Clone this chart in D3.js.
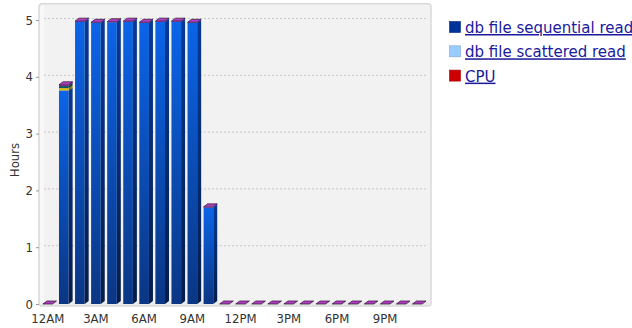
<!DOCTYPE html>
<html>
<head>
<meta charset="utf-8">
<script src="https://cdn.jsdelivr.net/npm/d3@7"></script>
<style>
  html, body { margin: 0; padding: 0; background: #ffffff; }
  svg { display: block; }
  .axis-label { font-family: "DejaVu Sans Condensed", "DejaVu Sans", sans-serif; font-size: 13px; fill: #333; }
  .legend-text { font-family: "DejaVu Sans", sans-serif; font-size: 15px; fill: #1a1a9c; text-decoration: underline; }
</style>
</head>
<body>
<svg id="chart" width="632" height="328"></svg>
<script>
// Hours of the day, one bar per hour
const hours = ["12AM","1AM","2AM","3AM","4AM","5AM","6AM","7AM","8AM","9AM","10AM","11AM",
               "12PM","1PM","2PM","3PM","4PM","5PM","6PM","7PM","8PM","9PM","10PM","11PM"];
const tickHours = ["12AM","3AM","6AM","9AM","12PM","3PM","6PM","9PM"];
const yTicks = [0, 1, 2, 3, 4, 5];

// Time spent per wait class (hours), stacked bottom to top
const seqRead     = [0, 3.76, 4.97, 4.95, 4.96, 4.97, 4.95, 4.97, 4.97, 4.95, 1.70, 0, 0, 0, 0, 0, 0, 0, 0, 0, 0, 0, 0, 0];
const scatRead    = [0, 0, 0, 0, 0, 0, 0, 0, 0, 0, 0, 0, 0, 0, 0, 0, 0, 0, 0, 0, 0, 0, 0, 0];
const cpu         = [0, 0, 0, 0, 0, 0, 0, 0, 0, 0, 0, 0, 0, 0, 0, 0, 0, 0, 0, 0, 0, 0, 0, 0];
const otherIO     = [0, 0.04, 0, 0, 0, 0, 0, 0, 0, 0, 0, 0, 0, 0, 0, 0, 0, 0, 0, 0, 0, 0, 0, 0];
const commitWait  = [0, 0.04, 0, 0, 0, 0, 0, 0, 0, 0, 0, 0, 0, 0, 0, 0, 0, 0, 0, 0, 0, 0, 0, 0];
const otherWait   = [0, 0.02, 0.01, 0.01, 0.01, 0.01, 0.01, 0.01, 0.01, 0.01, 0.01, 0, 0, 0, 0, 0, 0, 0, 0, 0, 0, 0, 0, 0];

const series = [
  { name: "db file sequential read", values: seqRead,    front: ["#0b64e8", "#0a3684"], side: ["#063a94", "#041c4c"], legend: "#003399" },
  { name: "db file scattered read",  values: scatRead,   front: ["#a8d4ff", "#7fb6ee"], side: ["#6a9ad0", "#4d7cb0"], legend: "#99ccff" },
  { name: "CPU",                     values: cpu,        front: ["#dd1111", "#aa0000"], side: ["#880000", "#660000"], legend: "#cc0000" },
  { name: "Other I/O",               values: otherIO,    front: ["#e8c400", "#d8b000"], side: ["#9a8000", "#806a00"], legend: null },
  { name: "Commit",                  values: commitWait, front: ["#13666c", "#0e5258"], side: ["#0a3c40", "#083034"], legend: null },
  { name: "Other",                   values: otherWait,  front: ["#9a2aa8", "#801c90"], side: ["#581468", "#480e58"], legend: null }
];
const topColor = "#b040c0";

const svg = d3.select("#chart");
const defs = svg.append("defs");

const x = d3.scaleBand().domain(hours).range([39.7, 425.3]).paddingInner(0.4).paddingOuter(0.2);
const y = d3.scaleLinear().domain([0, 5]).range([304, 20]);
const dx = 4, dy = 3;

// vertical gradients for front and side faces of each series
series.forEach((s, i) => {
  const gf = defs.append("linearGradient").attr("id", "gf" + i).attr("x1", 0).attr("y1", 0).attr("x2", 0).attr("y2", 1);
  gf.append("stop").attr("offset", "0%").attr("stop-color", s.front[0]);
  gf.append("stop").attr("offset", "100%").attr("stop-color", s.front[1]);
  const gs = defs.append("linearGradient").attr("id", "gs" + i).attr("x1", 0).attr("y1", 0).attr("x2", 0).attr("y2", 1);
  gs.append("stop").attr("offset", "0%").attr("stop-color", s.side[0]);
  gs.append("stop").attr("offset", "100%").attr("stop-color", s.side[1]);
});

// plot walls
const wallTop = y(5.27), wallBottom = 305, wallLeft = 40, wallRight = 430;
svg.append("rect").attr("x", wallLeft - 1).attr("y", wallTop - 1)
  .attr("width", wallRight - wallLeft + 2).attr("height", wallBottom - wallTop + 2)
  .attr("rx", 3).attr("fill", "#f2f2f2").attr("stroke", "#d9d9d9").attr("stroke-width", 1.5);
// left side wall and floor strip
svg.append("path")
  .attr("d", `M${wallLeft},${wallTop + 2} L${wallLeft + dx},${wallTop} L${wallLeft + dx},${wallBottom - dy} L${wallLeft},${wallBottom} Z`)
  .attr("fill", "#f8f8f8");
svg.append("path")
  .attr("d", `M${wallLeft},${wallBottom} L${wallLeft + dx},${wallBottom - dy} L${wallRight},${wallBottom - dy} L${wallRight - 2},${wallBottom} Z`)
  .attr("fill", "#e9e9e9");

// gridlines on the back wall
svg.append("g").selectAll("line").data(yTicks.filter(d => d > 0)).join("line")
  .attr("x1", wallLeft + dx).attr("x2", wallRight - 2)
  .attr("y1", d => y(d) - 1.5).attr("y2", d => y(d) - 1.5)
  .attr("stroke", "#c8c8c8").attr("stroke-width", 1).attr("stroke-dasharray", "2,2");

// y axis
const yAxis = svg.append("g").attr("transform", "translate(39,0)")
  .call(d3.axisLeft(y).tickValues(yTicks).tickSize(3).tickPadding(3).tickFormat(d3.format("d")));
yAxis.select(".domain").remove();
yAxis.selectAll(".tick line").attr("stroke", "#999");
yAxis.selectAll("text").attr("class", "axis-label").attr("fill", null);

// x axis labels
const xAxis = svg.append("g").attr("transform", "translate(0,308)")
  .call(d3.axisBottom(x).tickValues(tickHours).tickSize(0).tickPadding(6));
xAxis.select(".domain").remove();
xAxis.selectAll("text").attr("class", "axis-label").attr("fill", null);

svg.append("text").attr("class", "axis-label")
  .attr("transform", "translate(19,160) rotate(-90)")
  .attr("text-anchor", "middle").text("Hours");

// stacked 3D bars
const stackData = hours.map((h, i) => {
  const row = { hour: h };
  series.forEach(s => row[s.name] = s.values[i]);
  return row;
});
const stacked = d3.stack().keys(series.map(s => s.name))(stackData);

const bars = svg.append("g");
const bw = x.bandwidth();
hours.forEach((h, i) => {
  const g = bars.append("g");
  const bx = x(h);
  stacked.forEach((layer, si) => {
    const [v0, v1] = layer[i];
    if (v1 - v0 <= 0) return;
    const yt = y(v1), yb = y(v0);
    g.append("rect").attr("x", bx).attr("y", yt).attr("width", bw).attr("height", yb - yt)
      .attr("fill", `url(#gf${si})`);
    g.append("path")
      .attr("d", `M${bx + bw},${yt} L${bx + bw + dx},${yt - dy} L${bx + bw + dx},${yb - dy} L${bx + bw},${yb} Z`)
      .attr("fill", `url(#gs${si})`);
  });
  const total = stacked[stacked.length - 1][i][1];
  const yt = y(total);
  g.append("path")
    .attr("d", `M${bx},${yt} L${bx + dx},${yt - dy} L${bx + bw + dx},${yt - dy} L${bx + bw},${yt} Z`)
    .attr("fill", topColor).attr("stroke", "#2a1030").attr("stroke-width", 0.7);
});

// legend
const legendItems = series.filter(s => s.legend);
const lg = svg.append("g").attr("transform", "translate(449,21)");
legendItems.forEach((s, i) => {
  const row = lg.append("g").attr("transform", `translate(0,${i * 24.3})`);
  row.append("rect").attr("x", 0.5).attr("y", 0.5).attr("width", 11).attr("height", 11)
    .attr("fill", s.legend).attr("stroke", d3.color(s.legend).darker(0.6)).attr("stroke-width", 0.6);
  row.append("text").attr("class", "legend-text").attr("x", 16).attr("y", 12).text(s.name);
});
</script>
</body>
</html>
